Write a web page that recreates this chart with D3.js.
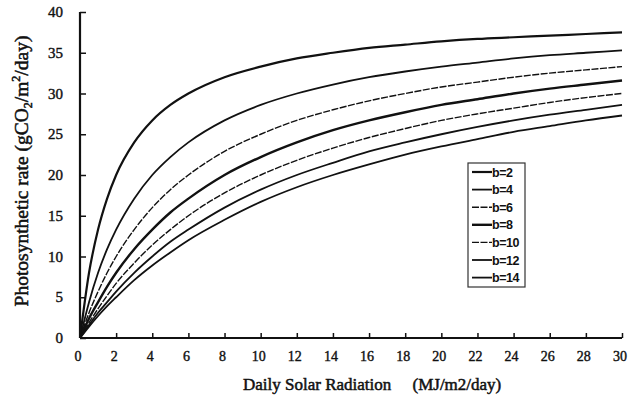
<!DOCTYPE html>
<html>
<head>
<meta charset="utf-8">
<script src="https://cdn.jsdelivr.net/npm/d3@7"></script>
<style>
  body { margin: 0; background: #fff; }
  text { font-family: "Liberation Serif", "DejaVu Serif", serif; fill: #111; }
</style>
</head>
<body>
<script>
var width = 635
var height = 403
var margin = { top: 12, right: 13, bottom: 65, left: 80 }

// radiation values (MJ/m2/day) where curves were read
var radiation = [0, 0.5, 1, 1.5, 2, 3, 4, 5, 6, 8, 10, 12, 14, 16, 18, 20, 22, 24, 26, 28, 30]

var seriesNames = ['b=2', 'b=4', 'b=6', 'b=8', 'b=10', 'b=12', 'b=14']

var b2  = [0, 8.0, 13.3, 17.1, 20.0, 24.0, 26.7, 28.6, 30.0, 32.0, 33.3, 34.3, 35.0, 35.6, 36.0, 36.4, 36.7, 36.9, 37.1, 37.3, 37.5]
var b4  = [0, 4.4, 8.0, 10.9, 13.3, 17.1, 20.0, 22.2, 24.0, 26.7, 28.6, 30.0, 31.1, 32.0, 32.7, 33.3, 33.8, 34.3, 34.7, 35.0, 35.3]
var b6  = [0, 3.1, 5.7, 8.0, 10.0, 13.3, 16.0, 18.2, 20.0, 22.9, 25.0, 26.7, 28.0, 29.1, 30.0, 30.8, 31.4, 32.0, 32.5, 32.9, 33.3]
var b8  = [0, 2.4, 4.4, 6.3, 8.0, 10.9, 13.3, 15.4, 17.1, 20.0, 22.2, 24.0, 25.5, 26.7, 27.7, 28.6, 29.3, 30.0, 30.6, 31.1, 31.6]
var b10 = [0, 1.9, 3.6, 5.2, 6.7, 9.2, 11.4, 13.3, 15.0, 17.8, 20.0, 21.8, 23.3, 24.6, 25.7, 26.7, 27.5, 28.2, 28.9, 29.5, 30.0]
var b12 = [0, 1.6, 3.1, 4.4, 5.7, 8.0, 10.0, 11.8, 13.3, 16.0, 18.2, 20.0, 21.5, 22.9, 24.0, 25.0, 25.9, 26.7, 27.4, 28.0, 28.6]
var b14 = [0, 1.4, 2.7, 3.9, 5.0, 7.1, 8.9, 10.5, 12.0, 14.5, 16.7, 18.5, 20.0, 21.3, 22.5, 23.5, 24.4, 25.3, 26.0, 26.7, 27.3]

var xTicks = [0, 2, 4, 6, 8, 10, 12, 14, 16, 18, 20, 22, 24, 26, 28, 30]
var yTicks = [0, 5, 10, 15, 20, 25, 30, 35, 40]

var allSeries = [b2, b4, b6, b8, b10, b12, b14]
// line looks per curve (scan shows some lighter / broken lines)
var looks = [
  { w: 2.2, dash: null },
  { w: 1.8, dash: null },
  { w: 1.4, dash: '7,1.5' },
  { w: 2.4, dash: null },
  { w: 1.4, dash: '7,1.5' },
  { w: 1.8, dash: null },
  { w: 1.8, dash: null }
]

var svg = d3.select('body').append('svg')
  .attr('width', width)
  .attr('height', height)

var xScale = d3.scaleLinear()
  .domain([0, 30])
  .range([margin.left, width - margin.right])

var yScale = d3.scaleLinear()
  .domain([0, 40])
  .range([height - margin.bottom, margin.top])

var line = d3.line()
  .x((d, i) => xScale(radiation[i]))
  .y(d => yScale(d))
  .curve(d3.curveMonotoneX)

svg.append('g').selectAll('path')
  .data(allSeries)
  .enter().append('path')
  .attr('d', d => line(d))
  .attr('fill', 'none')
  .attr('stroke', '#111')
  .attr('stroke-width', (d, i) => looks[i].w)
  .attr('stroke-dasharray', (d, i) => looks[i].dash)

// axes, ticks pointing inward
var xAxis = d3.axisTop(xScale)
  .tickValues(xTicks)
  .tickSize(5)
  .tickFormat('')

var yAxis = d3.axisRight(yScale)
  .tickValues(yTicks)
  .tickSize(6)
  .tickFormat('')

var gx = svg.append('g')
  .attr('transform', 'translate(' + [0, height - margin.bottom] + ')')
  .call(xAxis)

var gy = svg.append('g')
  .attr('transform', 'translate(' + [margin.left, 0] + ')')
  .call(yAxis)

gx.select('.domain').attr('d', 'M' + margin.left + ',0H' + (width - margin.right)).attr('stroke-width', 2.2).attr('stroke', '#111')
gy.select('.domain').attr('d', 'M0,' + (height - margin.bottom) + 'V' + margin.top).attr('stroke-width', 2.2).attr('stroke', '#111')
svg.selectAll('.tick line').attr('stroke', '#111').attr('stroke-width', 1.5)

// tick labels (scanned serif, slightly heavy)
svg.append('g').selectAll('text')
  .data(xTicks)
  .enter().append('text')
  .attr('x', d => xScale(d) - 2)
  .attr('y', height - margin.bottom + 23)
  .attr('text-anchor', 'middle')
  .attr('font-size', 14)
  .attr('stroke', '#111')
  .attr('stroke-width', 0.4)
  .text(d => d)

svg.append('g').selectAll('text')
  .data(yTicks)
  .enter().append('text')
  .attr('x', 63)
  .attr('y', d => yScale(d) + 5)
  .attr('text-anchor', 'end')
  .attr('font-size', 15)
  .attr('stroke', '#111')
  .attr('stroke-width', 0.4)
  .text(d => d)

// axis titles
svg.append('text')
  .attr('x', 243)
  .attr('y', 390)
  .attr('font-size', 17)
  .attr('stroke', '#111')
  .attr('stroke-width', 0.5)
  .attr('xml:space', 'preserve')
  .text('Daily Solar Radiation     (MJ/m2/day)')

var yt = svg.append('text')
  .attr('transform', 'translate(28,' + 171 + ') rotate(-90)')
  .attr('text-anchor', 'middle')
  .attr('font-size', 19.5)
  .attr('stroke', '#111')
  .attr('stroke-width', 0.5)
yt.append('tspan').text('Photosynthetic rate (gCO')
yt.append('tspan').attr('font-size', 12).attr('dy', 4).text('2')
yt.append('tspan').attr('dy', -4).text('/m')
yt.append('tspan').attr('font-size', 12).attr('dy', -8).text('2')
yt.append('tspan').attr('dy', 8).text('/day)')

// legend
var legend = svg.append('g').attr('transform', 'translate(468,163)')
legend.append('rect')
  .attr('width', 57)
  .attr('height', 124)
  .attr('fill', '#fff')
  .attr('stroke', '#333')
  .attr('stroke-width', 1.2)

var items = legend.selectAll('g.item')
  .data(seriesNames)
  .enter().append('g')
  .attr('class', 'item')
  .attr('transform', (d, i) => 'translate(0,' + (9 + i * 17.6) + ')')

items.append('line')
  .attr('x1', 4).attr('x2', 24)
  .attr('stroke', '#111')
  .attr('stroke-width', (d, i) => looks[i].w)
  .attr('stroke-dasharray', (d, i) => looks[i].dash)

items.append('text')
  .attr('x', 24)
  .attr('y', 4.5)
  .style('font-family', '"Liberation Sans", Arial, sans-serif')
  .attr('font-size', 12.5)
  .attr('font-weight', 'bold')
  .attr('letter-spacing', -0.5)
  .text(d => d)
</script>
</body>
</html>
